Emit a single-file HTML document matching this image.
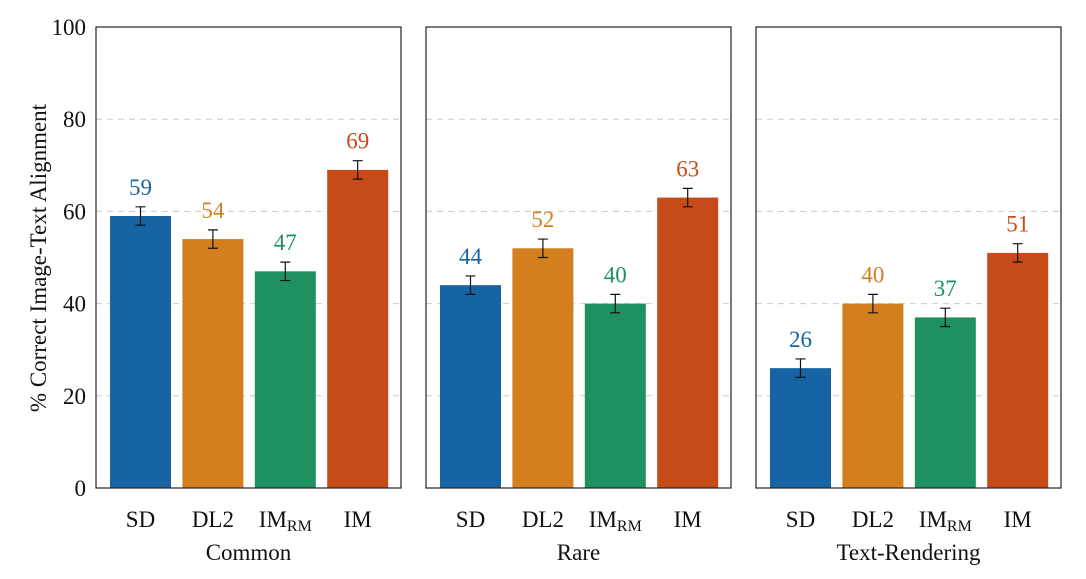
<!DOCTYPE html>
<html><head><meta charset="utf-8"><style>
html,body{margin:0;padding:0;background:#fff;width:1086px;height:579px;overflow:hidden}
text{font-family:"Liberation Serif",serif}
</style></head><body>
<svg id="chart" width="1086" height="579" xmlns="http://www.w3.org/2000/svg"></svg>
<script>
const groups=["Common","Rare","Text-Rendering"];
const models=["SD","DL2","IM_RM","IM"];
const colors=["#1764a4","#d37f20","#1f9161","#c74b19"];
const commonVals=[59,54,47,69];
const rareVals=[44,52,40,63];
const textVals=[26,40,37,51];
const errVals=[2,2,2,2];
const yTicks=[0,20,40,60,80,100];
const allVals=[commonVals,rareVals,textVals];
const NS="http://www.w3.org/2000/svg";
const svg=document.getElementById('chart');
const yTop=27,yBot=488,panelW=305,panelX0=96,panelStep=330;
function y(v){return yBot-(yBot-yTop)*v/100;}
function mk(t,a,p){const e=document.createElementNS(NS,t);for(const k in a)e.setAttribute(k,a[k]);(p||svg).appendChild(e);return e;}
yTicks.forEach(t=>{
  const tx=mk('text',{x:86,y:y(t)+8,'text-anchor':'end','font-size':23,fill:'#111'});
  
  
  tx.textContent=t;
});
const yt=mk('text',{x:0,y:0,transform:'translate(46,258) rotate(-90)','text-anchor':'middle','font-size':23,fill:'#111'});


yt.textContent='% Correct Image-Text Alignment';
groups.forEach((g,gi)=>{
  const px=panelX0+gi*panelStep;
  const grp=mk('g',{});
  
  
  yTicks.slice(1,5).forEach(t=>{
    const l=mk('line',{x1:px,x2:px+panelW,y1:y(t),y2:y(t),stroke:'#ccc','stroke-width':1,'stroke-dasharray':'6,5'},grp);
    
    
  });
  const vals=allVals[gi];
  vals.forEach((v,i)=>{
    const bx=px+14+i*72.4, bw=61, cx=bx+bw/2;
    const r=mk('rect',{x:bx,y:y(v),width:bw,height:yBot-y(v),fill:colors[i]},grp);
    
    
    const e=errVals[i];
    const eb=mk('path',{d:`M${cx},${y(v+e)}V${y(v-e)}M${cx-5},${y(v+e)}H${cx+5}M${cx-5},${y(v-e)}H${cx+5}`,stroke:'#111','stroke-width':1.2,fill:'none'},grp);
    
    
    const lt=mk('text',{x:cx,y:y(v+e)-12,'text-anchor':'middle','font-size':23,fill:colors[i]},grp);
    
    
    lt.textContent=v;
    const xl=mk('text',{x:cx,y:527,'text-anchor':'middle','font-size':23,fill:'#111'},grp);
    
    
    if(models[i]==='IM_RM'){xl.textContent='IM';const s=mk('tspan',{'font-size':16,dy:4},xl);s.textContent='RM';}
    else xl.textContent=models[i];
  });
  const b=mk('rect',{x:px,y:yTop,width:panelW,height:yBot-yTop,fill:'none',stroke:'#222','stroke-width':1.2},grp);
  
  
  const gt=mk('text',{x:px+panelW/2,y:560,'text-anchor':'middle','font-size':23,fill:'#111'},grp);
  
  
  gt.textContent=g;
});
</script>
</body></html>
